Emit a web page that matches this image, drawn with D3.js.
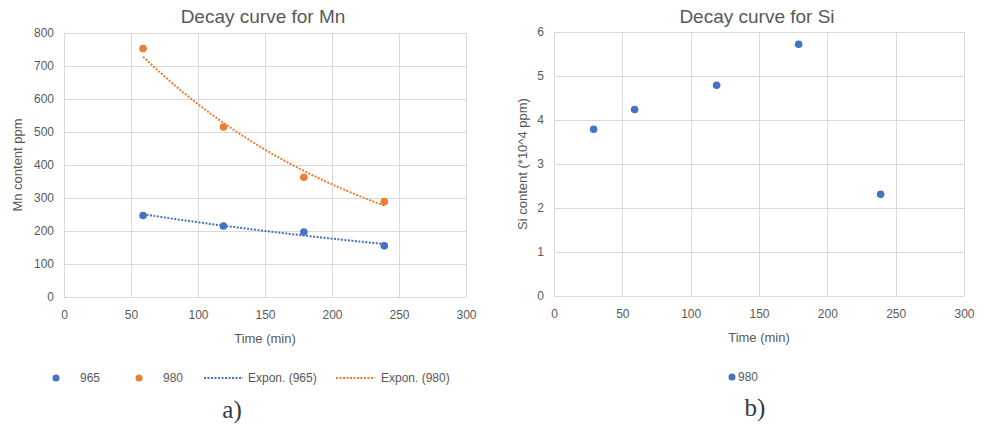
<!doctype html>
<html lang='en'>
<head>
    <meta charset='UTF-8'>
    <title>Decay curves</title>
    <style>
        body{ margin: 0; background: #fff; }
        text{ font-family: 'Liberation Sans', Arial, sans-serif; fill: #595959; }
        .grid line{ stroke: #d9d9d9; stroke-width: 1px; }
        .axis path{ display: none; }
        .axis line{ display: none; }
        .axis text{ font-size: 12px; fill: #595959; }
        .trend{ fill: none; stroke-width: 2px; stroke-dasharray: 2,1.5; }
        .label{ font-family: 'Liberation Serif', 'DejaVu Serif', serif; font-size: 25px; fill: #333a45; }
    </style>
</head>
<body>
<script src='https://d3js.org/d3.v7.min.js'></script>
<script>
  // values
  const timeMn = [59, 119, 179, 239]
  const mn965 = [247, 215, 197, 155]
  const mn980 = [753, 515, 363, 289]
  const timeSi = [29, 59, 119, 179, 239]
  const si980 = [3.79, 4.24, 4.79, 5.72, 2.31]
  const xTicks = [0, 50, 100, 150, 200, 250, 300]
  const mnTicks = [0, 100, 200, 300, 400, 500, 600, 700, 800]
  const siTicks = [0, 1, 2, 3, 4, 5, 6]

  const blue = '#4472c4'
  const orange = '#ed7d31'

  const svg = d3.select('body')
    .append('svg')
    .attr('width', 987)
    .attr('height', 427)

  // least squares fit of ln(y) = ln(a) + b x, like an Excel exponential trendline
  function expFit(xs, ys) {
    const ly = ys.map(Math.log)
    const mx = d3.mean(xs), my = d3.mean(ly)
    const b = d3.sum(xs, (x, i) => (x - mx) * (ly[i] - my)) / d3.sum(xs, x => (x - mx) ** 2)
    const a = Math.exp(my - b * mx)
    return x => a * Math.exp(b * x)
  }

  function panel(cfg) {
    const g = svg.append('g')
    const x = d3.scaleLinear().domain([0, 300]).range([cfg.left, cfg.right])
    const y = d3.scaleLinear().domain(d3.extent(cfg.yTicks)).range([cfg.bottom, cfg.top])

    const grid = g.append('g').attr('class', 'grid')
    grid.selectAll('.h').data(cfg.yTicks).join('line')
      .attr('x1', cfg.left).attr('x2', cfg.right)
      .attr('y1', d => Math.round(y(d)) + 0.5).attr('y2', d => Math.round(y(d)) + 0.5)
    grid.selectAll('.v').data(xTicks).join('line')
      .attr('x1', d => Math.round(x(d)) + 0.5).attr('x2', d => Math.round(x(d)) + 0.5)
      .attr('y1', cfg.top).attr('y2', cfg.bottom)

    g.append('g')
      .attr('class', 'axis')
      .attr('transform', `translate(0, ${cfg.bottom})`)
      .call(d3.axisBottom(x).tickValues(xTicks).tickFormat(d3.format('d')).tickSize(0).tickPadding(13))

    g.append('g')
      .attr('class', 'axis')
      .attr('transform', `translate(${cfg.left}, 0)`)
      .call(d3.axisLeft(y).tickValues(cfg.yTicks).tickFormat(d3.format('d')).tickSize(0).tickPadding(10))

    g.append('text')
      .attr('x', (cfg.left + cfg.right) / 2 - 2)
      .attr('y', 23)
      .attr('text-anchor', 'middle')
      .style('font-size', '19px')
      .text(cfg.title)

    g.append('text')
      .attr('x', (cfg.left + cfg.right) / 2)
      .attr('y', cfg.bottom + 46)
      .attr('text-anchor', 'middle')
      .style('font-size', '13px')
      .text('Time (min)')

    g.append('text')
      .attr('transform', `translate(${cfg.yTitleX}, ${(cfg.top + cfg.bottom) / 2}) rotate(-90)`)
      .attr('text-anchor', 'middle')
      .style('font-size', '13px')
      .text(cfg.yTitle)

    return {g, x, y}
  }

  // a) Mn
  const a = panel({left: 64, right: 466, top: 33, bottom: 297, yTicks: mnTicks,
    title: 'Decay curve for Mn', yTitle: 'Mn content ppm', yTitleX: 22})

  const trendLine = d3.line().x(d => a.x(d[0])).y(d => a.y(d[1]))
  const span = d3.range(timeMn[0], timeMn[timeMn.length - 1] + 0.5, 2)
  const fit965 = expFit(timeMn, mn965)
  const fit980 = expFit(timeMn, mn980)
  a.g.append('path').attr('class', 'trend').attr('stroke', blue)
    .attr('d', trendLine(span.map(t => [t, fit965(t)])))
  a.g.append('path').attr('class', 'trend').attr('stroke', orange)
    .attr('d', trendLine(span.map(t => [t, fit980(t)])))

  a.g.selectAll('.p965').data(timeMn).join('circle')
    .attr('cx', d => a.x(d)).attr('cy', (d, i) => a.y(mn965[i])).attr('r', 3.8).attr('fill', blue)
  a.g.selectAll('.p980').data(timeMn).join('circle')
    .attr('cx', d => a.x(d)).attr('cy', (d, i) => a.y(mn980[i])).attr('r', 3.8).attr('fill', orange)

  // legend a
  const legY = 378
  const leg = svg.append('g').style('font-size', '12px')
  leg.append('circle').attr('cx', 56).attr('cy', legY).attr('r', 3.5).attr('fill', blue)
  leg.append('text').attr('x', 80).attr('y', legY + 4).text('965')
  leg.append('circle').attr('cx', 139).attr('cy', legY).attr('r', 3.5).attr('fill', orange)
  leg.append('text').attr('x', 163).attr('y', legY + 4).text('980')
  leg.append('line').attr('class', 'trend').attr('stroke', blue)
    .attr('x1', 204).attr('x2', 243).attr('y1', legY).attr('y2', legY)
  leg.append('text').attr('x', 248).attr('y', legY + 4).text('Expon. (965)')
  leg.append('line').attr('class', 'trend').attr('stroke', orange)
    .attr('x1', 336).attr('x2', 375).attr('y1', legY).attr('y2', legY)
  leg.append('text').attr('x', 381).attr('y', legY + 4).text('Expon. (980)')

  // b) Si
  const b = panel({left: 554, right: 964, top: 32, bottom: 296, yTicks: siTicks,
    title: 'Decay curve for Si', yTitle: 'Si content (*10^4 ppm)', yTitleX: 527})

  b.g.selectAll('.psi').data(timeSi).join('circle')
    .attr('cx', d => b.x(d)).attr('cy', (d, i) => b.y(si980[i])).attr('r', 3.8).attr('fill', blue)

  leg.append('circle').attr('cx', 732).attr('cy', 377).attr('r', 3.5).attr('fill', blue)
  leg.append('text').attr('x', 738).attr('y', 381).text('980')

  svg.append('text').attr('class', 'label').attr('x', 232).attr('y', 418)
    .attr('text-anchor', 'middle').text('a)')
  svg.append('text').attr('class', 'label').attr('x', 755).attr('y', 416)
    .attr('text-anchor', 'middle').text('b)')
</script>
</body>
</html>
